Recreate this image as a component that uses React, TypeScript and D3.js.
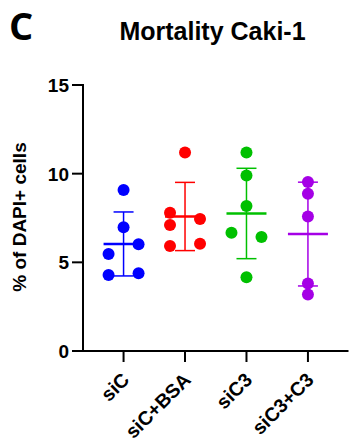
import React from "react";
import * as d3 from "d3";

const categories = ["siC", "siC+BSA", "siC3", "siC3+C3"];
const colors = ["#0000ff", "#ff0000", "#00c000", "#a500e6"];
const siC = [9.08, 6.98, 6.02, 5.47, 4.29, 4.38];
const siCBSA = [11.2, 7.8, 7.1, 7.44, 5.92, 6.05];
const siC3 = [11.2, 9.89, 8.18, 6.67, 6.43, 4.16];
const siC3C3 = [9.53, 8.87, 7.59, 3.8, 3.18];
const offsets = [
  [0, 0, 1, -1, -1, 1],
  [0, -1, -1, 1, -1, 1],
  [0, 0, 0, -1, 1, 0],
  [0, 0, 0, 0, 0],
];
const yTicks = [0, 5, 10, 15];
const series = [siC, siCBSA, siC3, siC3C3];

export default function App() {
  const W = 350, H = 441;
  const x = d3.scalePoint<string>().domain(categories).range([83, 348.5]).padding(0.66);
  const y = d3.scaleLinear().domain([0, 15]).range([351, 85]);
  const font = "'Liberation Sans', Arial, sans-serif";
  return (
    <svg width={W} height={H} style={{ position: "absolute", left: 0, top: 0, background: "#fff" }}>
      <text x={9} y={40} fontFamily="'Open Sans', sans-serif" fontWeight={700} fontSize={38}>C</text>
      <text x={212.5} y={39.5} textAnchor="middle" fontFamily={font} fontWeight={700} fontSize={25}>Mortality Caki-1</text>
      <text transform={`translate(26,217) rotate(-90)`} textAnchor="middle" fontFamily={font} fontWeight={700} fontSize={19}>% of DAPI+ cells</text>
      {/* y axis */}
      <line x1={83} x2={83} y1={y(15) - 1} y2={y(0) + 1} stroke="#000" strokeWidth={2} />
      {yTicks.map((t) => (
        <g key={t}>
          <line x1={72} x2={83} y1={y(t)} y2={y(t)} stroke="#000" strokeWidth={2} />
          <text x={69} y={y(t)} dy="0.36em" textAnchor="end" fontFamily={font} fontWeight={700} fontSize={19}>{t}</text>
        </g>
      ))}
      {/* x axis */}
      <line x1={82} x2={348.5} y1={351} y2={351} stroke="#000" strokeWidth={2} />
      {categories.map((c) => (
        <g key={c}>
          <line x1={x(c)!} x2={x(c)!} y1={351} y2={362} stroke="#000" strokeWidth={2} />
          <text transform={`translate(${x(c)! + 7},381) rotate(-45)`} textAnchor="end" fontFamily={font} fontWeight={700} fontSize={19.5}>{c}</text>
        </g>
      ))}
      {series.map((vals, i) => {
        const cx = x(categories[i])!;
        const m = d3.mean(vals)!;
        const sd = d3.deviation(vals)!;
        const col = colors[i];
        return (
          <g key={i}>
            {vals.map((v, j) => (
              <circle key={j} cx={cx + offsets[i][j] * 15} cy={y(v)} r={6} fill={col} />
            ))}
            <line x1={cx} x2={cx} y1={y(m + sd)} y2={y(m - sd)} stroke={col} strokeWidth={1.5} />
            <line x1={cx - 10} x2={cx + 10} y1={y(m + sd)} y2={y(m + sd)} stroke={col} strokeWidth={1.5} />
            <line x1={cx - 10} x2={cx + 10} y1={y(m - sd)} y2={y(m - sd)} stroke={col} strokeWidth={1.5} />
            <line x1={cx - 20} x2={cx + 20} y1={y(m)} y2={y(m)} stroke={col} strokeWidth={2.5} />
          </g>
        );
      })}
    </svg>
  );
}
